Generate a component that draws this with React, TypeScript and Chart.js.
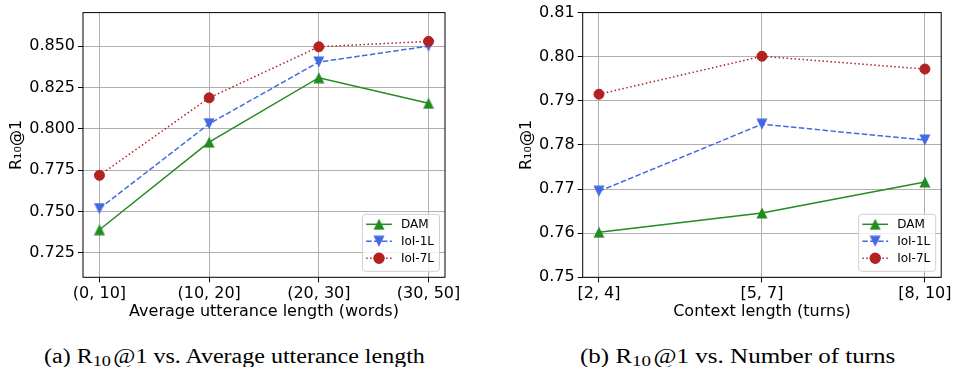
import React, { useEffect, useRef } from 'react';
import { Chart, registerables } from 'chart.js';
import { drawPoint } from 'chart.js/helpers';

Chart.register(...registerables);

// ---------- data ----------
const seriesNames = ['DAM', 'IoI-1L', 'IoI-7L'];

const lengthCategories = ['(0, 10]', '(10, 20]', '(20, 30]', '(30, 50]'];
const lengthDAM = [0.739, 0.792, 0.831, 0.8155];
const lengthIoI1L = [0.7518, 0.8031, 0.8405, 0.8501];
const lengthIoI7L = [0.7719, 0.8188, 0.8497, 0.853];
const lengthYTicks = [0.725, 0.75, 0.775, 0.8, 0.825, 0.85];
const lengthYTickLabels = ['0.725', '0.750', '0.775', '0.800', '0.825', '0.850'];

const turnsCategories = ['[2, 4]', '[5, 7]', '[8, 10]'];
const turnsDAM = [0.7602, 0.7646, 0.7716];
const turnsIoI1L = [0.7695, 0.7847, 0.7811];
const turnsIoI7L = [0.7915, 0.8001, 0.7972];
const turnsYTicks = [0.75, 0.76, 0.77, 0.78, 0.79, 0.8, 0.81];
const turnsYTickLabels = ['0.75', '0.76', '0.77', '0.78', '0.79', '0.80', '0.81'];

const FONT = '"DejaVu Sans", sans-serif';
const GREEN = '#228B22';
const BLUE = '#4169E1';
const RED = '#B22222';

function makeTriangle(color: string, size: number) {
  const c = document.createElement('canvas');
  c.width = size;
  c.height = size;
  const g = c.getContext('2d')!;
  g.beginPath();
  g.moveTo(size / 2, 0.5);
  g.lineTo(size - 0.5, size - 0.5);
  g.lineTo(0.5, size - 0.5);
  g.closePath();
  g.fillStyle = color;
  g.fill();
  return c;
}

const frame = {
  id: 'frame',
  afterDatasetsDraw(chart: any) {
    const { ctx, chartArea: a } = chart;
    ctx.save();
    ctx.strokeStyle = '#000';
    ctx.lineWidth = 1;
    ctx.strokeRect(a.left, a.top, a.right - a.left, a.bottom - a.top);
    ctx.restore();
  },
};

const boxLegend = {
  id: 'boxLegend',
  afterDraw(chart: any) {
    const { ctx, chartArea: a } = chart;
    const items = chart.data.datasets;
    ctx.save();
    ctx.font = '12px ' + FONT;
    const textW = Math.max(...items.map((d: any) => ctx.measureText(d.label).width));
    const w = 38.5 + textW + 5.5;
    const h = 57;
    const right = a.right - 5.5;
    const bottom = a.bottom - 6;
    const left = right - w;
    const top = bottom - h;
    ctx.beginPath();
    (ctx as any).roundRect(left, top, w, h, 3);
    ctx.fillStyle = 'rgba(255,255,255,0.8)';
    ctx.fill();
    ctx.strokeStyle = '#d0d0d0';
    ctx.lineWidth = 1;
    ctx.stroke();
    items.forEach((d: any, i: number) => {
      const y = top + 10 + i * 17;
      ctx.beginPath();
      ctx.setLineDash(d.borderDash || []);
      ctx.strokeStyle = d.borderColor;
      ctx.lineWidth = d.borderWidth;
      ctx.moveTo(left + 3.7, y);
      ctx.lineTo(left + 29.5, y);
      ctx.stroke();
      ctx.setLineDash([]);
      ctx.fillStyle = d.pointBackgroundColor;
      ctx.strokeStyle = d.pointBorderColor;
      drawPoint(
        ctx,
        {
          pointStyle: d.pointStyle,
          rotation: d.pointRotation || 0,
          radius: d.pointRadius,
          borderWidth: d.pointBorderWidth,
        } as any,
        left + 16.6,
        y
      );
      ctx.fillStyle = '#000';
      ctx.textBaseline = 'middle';
      ctx.textAlign = 'left';
      ctx.fillText(d.label, left + 38.5, y + 0.5);
    });
    ctx.restore();
  },
};

type Cfg = {
  categories: string[];
  series: number[][];
  yTicks: number[];
  yLabels: string[];
  yMin: number;
  yMax: number;
  xPad: number;
  xTitle: string;
  yAxisWidth: number;
  xAxisHeight: number;
  padTop: number;
  padRight: number;
  yTitlePad: number;
  xTitlePad: number;
};

function buildConfig(c: Cfg, up: HTMLCanvasElement, down: HTMLCanvasElement): any {
  const colors = [GREEN, BLUE, RED];
  const dashes = [[], [5.5, 2.4], [1.5, 2.5]];
  const styles: any[] = [up, down, 'circle'];
  const rot = [0, 180, 0];
  const datasets = c.series.map((vals, si) => ({
    label: seriesNames[si],
    data: vals.map((v, i) => ({ x: i, y: v })),
    borderColor: colors[si],
    backgroundColor: colors[si],
    pointBackgroundColor: colors[si],
    pointBorderColor: colors[si],
    borderWidth: 1.5,
    borderDash: dashes[si],
    pointStyle: styles[si],
    pointRotation: rot[si],
    pointRadius: 5,
    pointBorderWidth: si === 2 ? 1 : 0,
    tension: 0,
    order: 3 - si,
    clip: false,
  }));
  return {
    type: 'line',
    data: { datasets },
    options: {
      animation: false,
      responsive: false,
      events: [],
      layout: { padding: { top: c.padTop, right: c.padRight, left: 0, bottom: 0 } },
      plugins: { legend: { display: false }, tooltip: { enabled: false } },
      scales: {
        x: {
          type: 'linear',
          min: -c.xPad,
          max: c.categories.length - 1 + c.xPad,
          afterBuildTicks: (s: any) => {
            s.ticks = c.categories.map((_, i) => ({ value: i }));
          },
          afterFit: (s: any) => {
            s.height = c.xAxisHeight;
          },
          ticks: {
            callback: (_v: any, i: number) => c.categories[i],
            font: { family: FONT, size: 16 },
            color: '#000',
            padding: 2,
            maxRotation: 0,
            autoSkip: false,
          },
          grid: { color: '#b0b0b0', lineWidth: 1, tickColor: '#000', tickLength: 5 },
          border: { display: false },
          title: {
            display: true,
            text: c.xTitle,
            font: { family: FONT, size: 16 },
            color: '#000',
            padding: { top: 0, bottom: c.xTitlePad },
          },
        },
        y: {
          type: 'linear',
          min: c.yMin,
          max: c.yMax,
          afterBuildTicks: (s: any) => {
            s.ticks = c.yTicks.map((v) => ({ value: v }));
          },
          afterFit: (s: any) => {
            s.width = c.yAxisWidth;
          },
          ticks: {
            callback: (_v: any, i: number) => c.yLabels[i],
            font: { family: FONT, size: 16 },
            color: '#000',
            padding: 3,
            autoSkip: false,
          },
          grid: { color: '#b0b0b0', lineWidth: 1, tickColor: '#000', tickLength: 5 },
          border: { display: false },
          title: {
            display: true,
            text: 'R\u2081\u2080@1',
            font: { family: FONT, size: 16 },
            color: '#000',
            padding: { top: c.yTitlePad, bottom: 0 },
          },
        },
      },
    },
    plugins: [frame, boxLegend],
  };
}

function LineChart({ cfg, left }: { cfg: Cfg; left: number }) {
  const ref = useRef<HTMLCanvasElement | null>(null);
  useEffect(() => {
    const up = makeTriangle(GREEN, 12);
    const down = makeTriangle(BLUE, 12);
    const chart = new Chart(ref.current!, buildConfig(cfg, up, down));
    return () => chart.destroy();
  }, [cfg]);
  return (
    <canvas
      ref={ref}
      width={477}
      height={330}
      style={{ position: 'absolute', left, top: 0, width: 477, height: 330 }}
    />
  );
}

const leftCfg: Cfg = {
  categories: lengthCategories,
  series: [lengthDAM, lengthIoI1L, lengthIoI7L],
  yTicks: lengthYTicks,
  yLabels: lengthYTickLabels,
  yMin: 0.7102,
  yMax: 0.8704,
  xPad: 0.15,
  xTitle: 'Average utterance length (words)',
  yAxisWidth: 83,
  xAxisHeight: 52.7,
  padTop: 7.3,
  padRight: 32,
  yTitlePad: 7.1,
  xTitlePad: 8.2,
};

const rightCfg: Cfg = {
  categories: turnsCategories,
  series: [turnsDAM, turnsIoI1L, turnsIoI7L],
  yTicks: turnsYTicks,
  yLabels: turnsYTickLabels,
  yMin: 0.75,
  yMax: 0.81,
  xPad: 0.1,
  xTitle: 'Context length (turns)',
  yAxisWidth: 105.7,
  xAxisHeight: 52.7,
  padTop: 9.3,
  padRight: 10.7,
  yTitlePad: 40.1,
  xTitlePad: 8.2,
};

const captionStyle: React.CSSProperties = {
  position: 'absolute',
  top: 345.5,
  fontFamily: '"Liberation Serif", "Times New Roman", serif',
  fontSize: 20,
  lineHeight: '20px',
  whiteSpace: 'nowrap',
  transformOrigin: '0 50%',
  color: '#000',
};

const Sub = ({ t }: { t: string }) => (
  <span style={{ fontSize: '0.76em', position: 'relative', top: '0.22em', marginRight: 2 }}>{t}</span>
);

export default function App() {
  return (
    <div
      style={{
        position: 'absolute',
        left: 0,
        top: 0,
        width: 954,
        height: 367,
        background: '#fff',
        overflow: 'hidden',
      }}
    >
      <LineChart cfg={leftCfg} left={0} />
      <LineChart cfg={rightCfg} left={477} />
      <div style={{ ...captionStyle, left: 43.5, transform: 'scaleX(1.2)' }}>
        (a) R<Sub t="10" />@1 vs. Average utterance length
      </div>
      <div style={{ ...captionStyle, left: 579.5, transform: 'scaleX(1.25)' }}>
        (b) R<Sub t="10" />@1 vs. Number of turns
      </div>
    </div>
  );
}
